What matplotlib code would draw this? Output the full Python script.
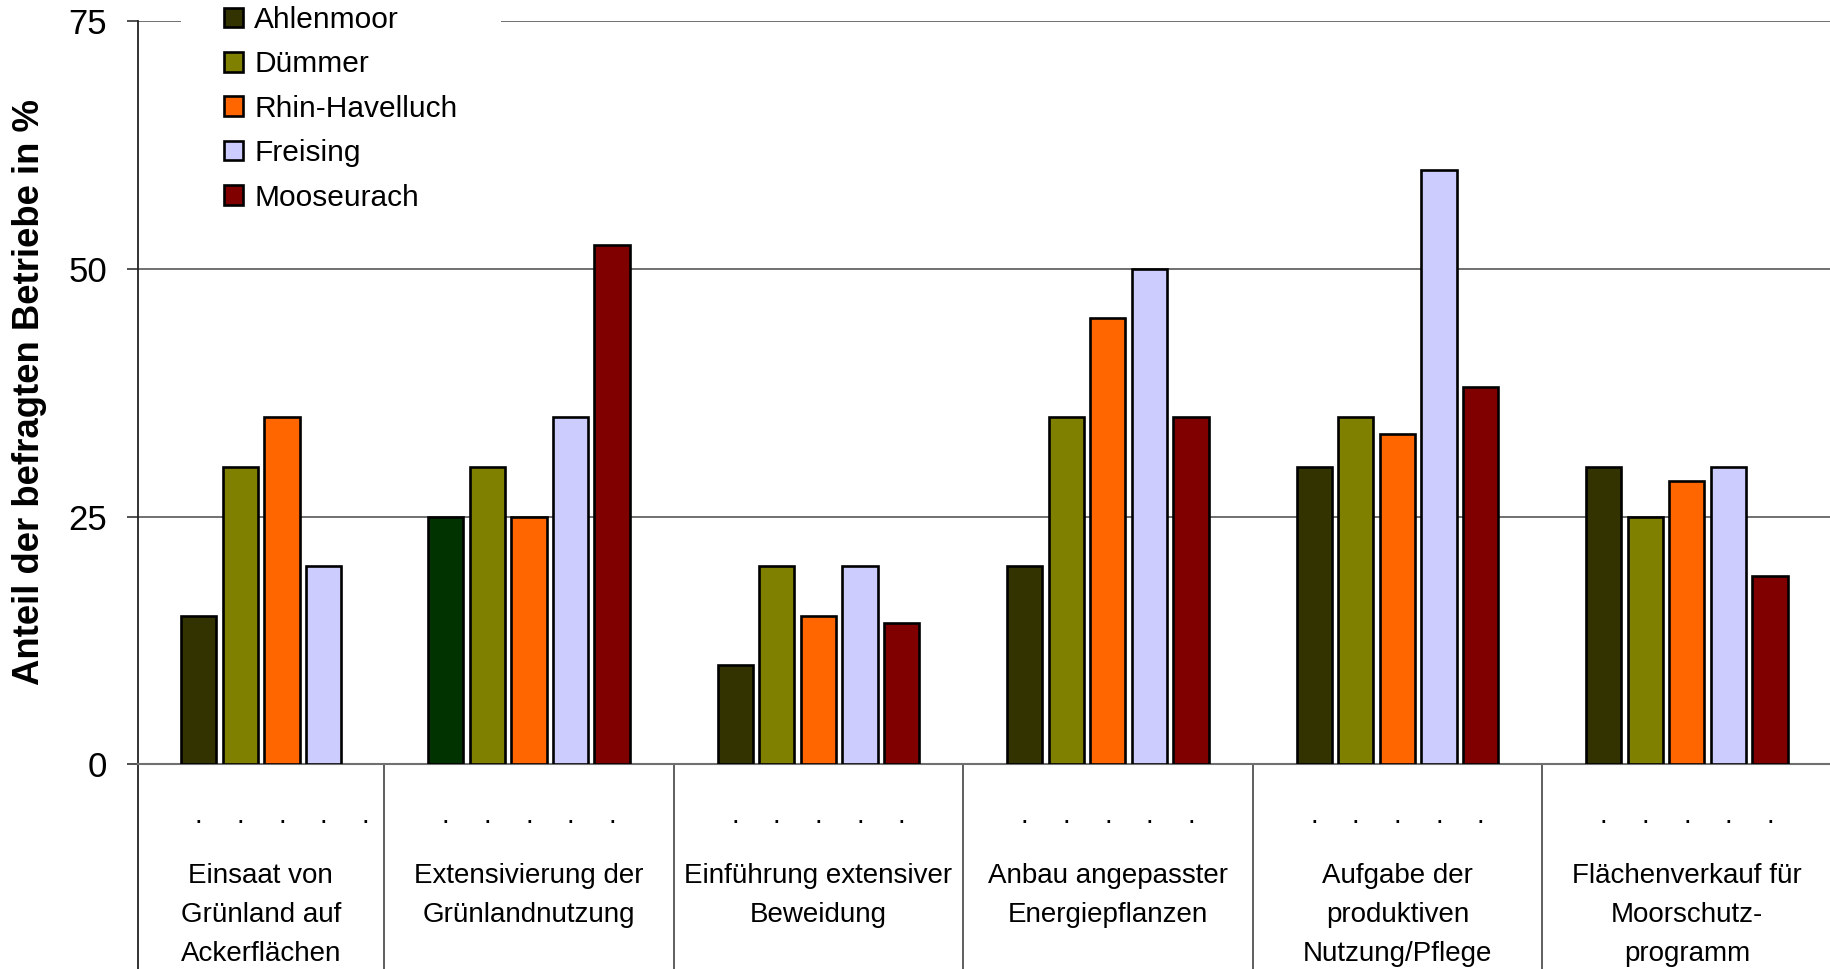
import numpy as np
import matplotlib
matplotlib.use("Agg")
import matplotlib.pyplot as plt

plt.rcParams['font.family'] = ['Liberation Sans', 'DejaVu Sans']

# Anteil der befragten Betriebe (%) je Maßnahme und Region
massnahmen = ["Einsaat von\nGrünland auf\nAckerflächen",
              "Extensivierung der\nGrünlandnutzung",
              "Einführung extensiver\nBeweidung",
              "Anbau angepasster\nEnergiepflanzen",
              "Aufgabe der\nproduktiven\nNutzung/Pflege",
              "Flächenverkauf für\nMoorschutz-\nprogramm"]

regionen = ["Ahlenmoor", "Dümmer", "Rhin-Havelluch", "Freising", "Mooseurach"]

ahlenmoor = [15, 25, 10, 20, 30, 30]
duemmer = [30, 30, 20, 35, 35, 25]
rhin_havelluch = [35, 25, 15, 45, 33.3, 28.6]
freising = [20, 35, 20, 50, 60, 30]
mooseurach = [np.nan, 52.4, 14.3, 35, 38.1, 19]

farben = ["#333300", "#808000", "#FF6600", "#CCCCFF", "#800000"]

werte = [ahlenmoor, duemmer, rhin_havelluch, freising, mooseurach]

fig = plt.figure(figsize=(18.31, 9.69), dpi=100)
ax = fig.add_axes([0.0751, 0.2112, 0.9249, 0.7671])

x = np.arange(len(massnahmen), dtype=float)
# erste Gruppe sitzt etwas weiter rechts
x[0] += 0.147
pitch = 0.1437
breite = 0.1217

bars = []
for i, (name, vals) in enumerate(zip(regionen, werte)):
    b = ax.bar(x + (i - 2) * pitch, vals, breite, color=farben[i],
               edgecolor="black", linewidth=1.9, label=name, zorder=3)
    bars.append(b)
# Extensivierung / Ahlenmoor ist im Original dunkelgrün
bars[0][1].set_facecolor("#003300")

ax.set_xlim(-0.352, 5.498)
ax.set_ylim(0, 75)
ax.set_yticks([0, 25, 50, 75])
ax.tick_params(axis="y", direction="out", length=8, width=1.2, pad=14,
               labelsize=25, color="#333333")
ax.set_xticks([])
ax.yaxis.grid(True, color="#707070", linewidth=1.4, zorder=0)

for s in ["top", "right"]:
    ax.spines[s].set_visible(False)
ax.spines["left"].set_color("#222222")
ax.spines["left"].set_linewidth(1.3)
ax.spines["bottom"].set_color("#707070")
ax.spines["bottom"].set_linewidth(1.5)

# Trennlinien der Kategorien unterhalb der Achse
trans = ax.get_xaxis_transform()
ax.vlines(np.arange(len(massnahmen) - 1) + 0.5, -0.3, 0, transform=trans,
          colors="#333333", linewidth=1.1, clip_on=False)
ax.vlines([-0.352], -0.3, 0, transform=trans, colors="#222222",
          linewidth=1.3, clip_on=False)

# Punkte als zweite Kategorienebene
for k in range(len(massnahmen)):
    for i in range(len(regionen)):
        ax.text(x[k] + (i - 2) * pitch, -0.079, ".", transform=trans,
                ha="center", va="baseline", fontsize=20)

label_x = np.arange(len(massnahmen), dtype=float)
label_x[0] = (-0.352 + 0.5) / 2
for k, txt in enumerate(massnahmen):
    ax.text(label_x[k], -0.133, txt, transform=trans, ha="center", va="top",
            fontsize=20, linespacing=1.65)

fig.text(30 / 1831, 0.5954, "Anteil der befragten Betriebe in %",
         rotation=90, ha="center", va="center", fontsize=26.3,
         fontweight="bold")

leg = ax.legend(loc="center left", bbox_to_anchor=(0.0908, 0.8878),
                bbox_transform=fig.transFigure, fontsize=21.5,
                frameon=True, facecolor="white", edgecolor="none",
                framealpha=1, fancybox=False, borderpad=1.45,
                handlelength=0.63, handleheight=0.63, handletextpad=0.37,
                labelspacing=0.55)
leg.set_zorder(5)

fig.savefig("out.png", dpi=100)
